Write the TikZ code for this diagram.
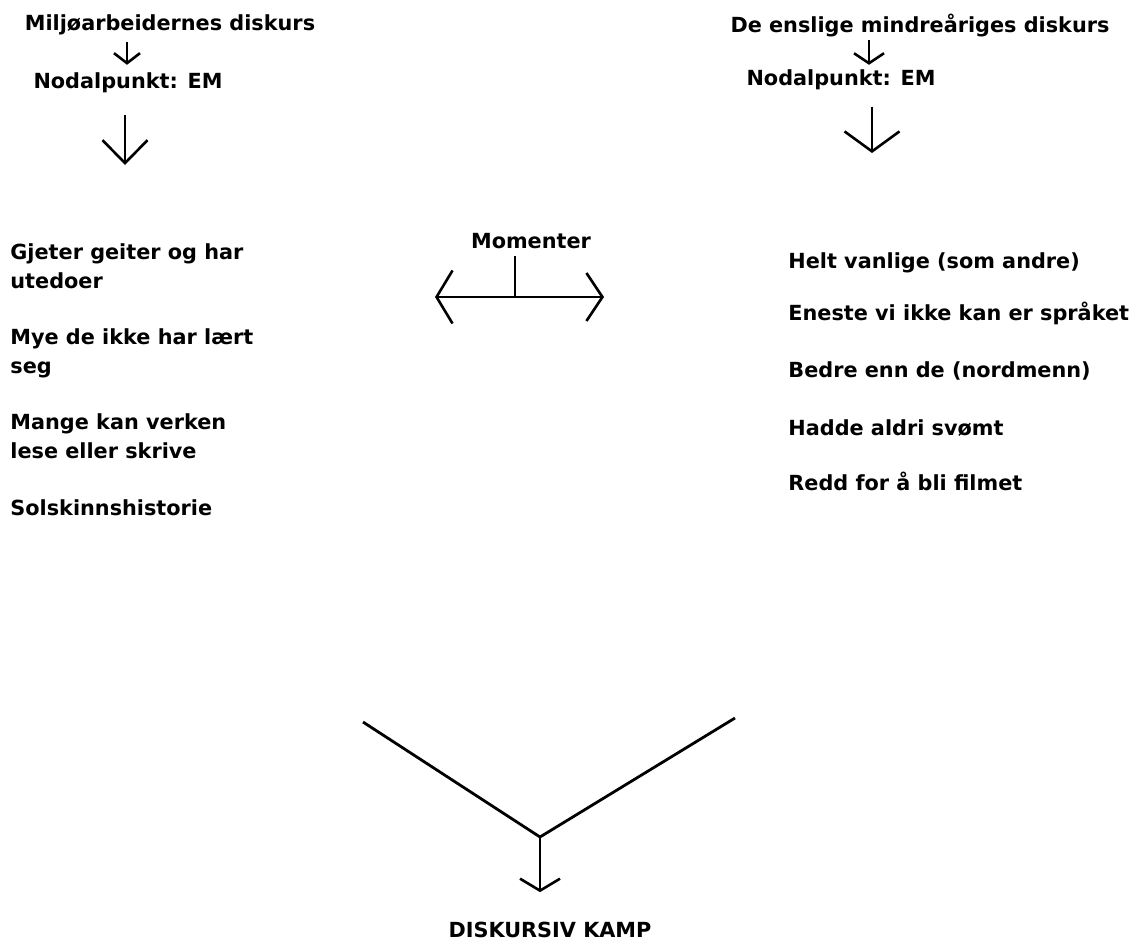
\documentclass[tikz,border=0pt]{standalone}
\usepackage{fontspec}
\setmainfont{DejaVu Sans}
\usetikzlibrary{positioning, arrows.meta}

\begin{document}
\begin{tikzpicture}[x=0.5pt, y=-0.5pt,
  lbl/.style={font=\fontsize{10.4}{14.3}\selectfont\bfseries, inner sep=0pt},
  item/.style={lbl, align=left, anchor=base west},
  line/.style={line width=1.3pt, black},
  barb/.style 2 args={line, -{Straight Barb[length=#1, width=#2]}}]
  \useasboundingbox (0,0) rectangle (1140,943);
  % left discourse
  \node[lbl, anchor=base] (mtitle) at (170,30) {Miljøarbeidernes diskurs};
  \node[lbl, anchor=base] (mnodal) at (128,88) {Nodalpunkt: EM};
  \coordinate (mdown) at (125,165);
  % right discourse
  \node[lbl, anchor=base] (etitle) at (920,32) {De enslige mindreåriges diskurs};
  \node[lbl, anchor=base] (enodal) at (841,85) {Nodalpunkt: EM};
  \coordinate (edown) at (872,153);
  % moments (base = last line)
  \node[item] (m1) at (10,288) {Gjeter geiter og har\\utedoer};
  \node[item] (m2) at (10,373) {Mye de ikke har lært\\seg};
  \node[item] (m3) at (10,458) {Mange kan verken\\lese eller skrive};
  \node[item] (m4) at (10,515) {Solskinnshistorie};
  \node[item] (e1) at (788,268) {Helt vanlige (som andre)};
  \node[item] (e2) at (788,320) {Eneste vi ikke kan er språket};
  \node[item] (e3) at (788,377) {Bedre enn de (nordmenn)};
  \node[item] (e4) at (788,435) {Hadde aldri svømt};
  \node[item] (e5) at (788,490) {Redd for å bli filmet};
  \node[lbl, anchor=base] (mom) at (531,248) {Momenter};
  \coordinate (mleft) at (435,297);
  \coordinate (mmid) at (515,297);
  \coordinate (mright) at (604,297);
  % struggle
  \coordinate (vl) at (363,722);
  \coordinate (vr) at (735,718);
  \coordinate (vjoin) at (540,837);
  \node[lbl, anchor=base] (kamp) at (550,937) {DISKURSIV KAMP};
  % arrows
  \draw[barb={5pt}{13pt}, shorten <=3.5pt, shorten >=3.5pt]
    ([xshift=-0.5pt]mnodal.north |- mtitle.south) -- ([xshift=-0.5pt]mnodal.north);
  \draw[barb={5pt}{15pt}, shorten <=1.5pt, shorten >=2pt]
    ([xshift=14pt]enodal.north |- etitle.south) -- ([xshift=14pt]enodal.north);
  \draw[barb={11.5pt}{22.5pt}, shorten <=11pt] (mnodal.south -| mdown) -- (mdown);
  \draw[barb={10pt}{27.5pt}, shorten <=8.5pt] (enodal.south -| edown) -- (edown);
  \draw[line, shorten <=3.5pt] (mom.south -| mmid) -- (mmid);
  \draw[barb={8pt}{26.5pt}] (mmid) -- (mleft);
  \draw[barb={8pt}{24pt}] (mmid) -- (mright);
  \draw[line, line width=1.4pt] (vl) -- (vjoin) -- (vr);
  \draw[barb={6pt}{20pt}, shorten >=14.5pt] (vjoin) -- (vjoin |- kamp.north);
\end{tikzpicture}
\end{document}
